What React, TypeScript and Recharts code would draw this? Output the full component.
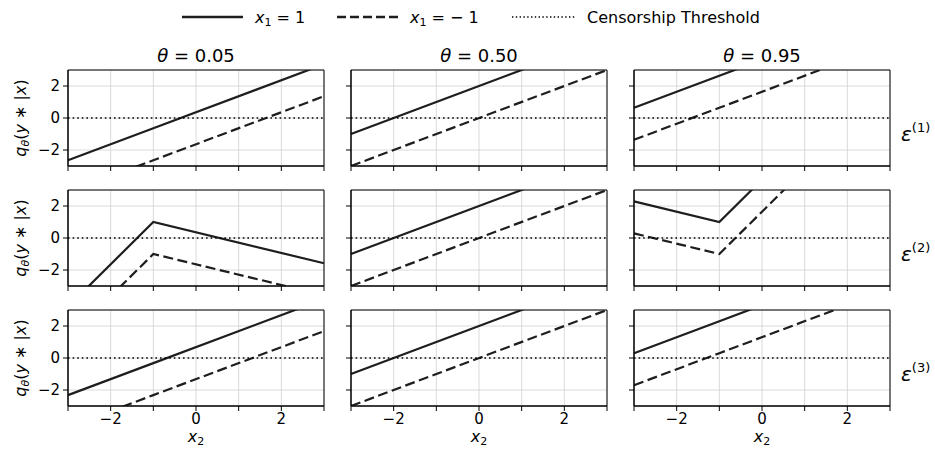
import { LineChart, Line, XAxis, YAxis, CartesianGrid, ReferenceLine, ReferenceArea } from 'recharts';

// x2 positions where the quantile curves are evaluated (kink at -1 for eps(2))
const X2 = [-3, -1, 3];
const THETAS = ['0.05', '0.50', '0.95'];
const NOISE_LABELS = ['1', '2', '3'];
const X_TICKS = [-3, -2, -1, 0, 1, 2, 3];
const Y_TICKS = [-2, 0, 2];

// one inner array per theta (0.05, 0.50, 0.95), values at X2
const E1_POS = [[-2.64, -0.64, 3.36], [-1, 1, 5], [0.64, 2.64, 6.64]];
const E1_NEG = [[-4.64, -2.64, 1.36], [-3, -1, 3], [-1.36, 0.64, 4.64]];
const E2_POS = [[-4.29, 1, -1.58], [-1, 1, 5], [2.29, 1, 11.58]];
const E2_NEG = [[-6.29, -1, -3.58], [-3, -1, 3], [0.29, -1, 9.58]];
const E3_POS = [[-2.32, -0.32, 3.68], [-1, 1, 5], [0.3, 2.3, 6.3]];
const E3_NEG = [[-4.32, -2.32, 1.68], [-3, -1, 3], [-1.7, 0.3, 4.3]];

const ROWS = [[E1_POS, E1_NEG], [E2_POS, E2_NEG], [E3_POS, E3_NEG]];

const COL_LEFT = [68, 351, 634];
const ROW_TOP = [70, 190, 310];
const PW = 256;
const PH = 96;
const YAXIS_W = 40;
const XAXIS_H = 30;
const M_TOP = 2;
const M_RIGHT = 2;
const FONT = '"DejaVu Sans", sans-serif';
const INK = '#1e1e1e';

const fmt = (v: number) => String(v).replace('-', '\u2212');

function Panel({ row, col }: { row: number; col: number }) {
  const [pos, neg] = ROWS[row];
  const data = X2.map((x, i) => ({ x2: x, pos: pos[col][i], neg: neg[col][i] }));
  const showX = row === 2;
  const showY = col === 0;

  return (
    <div style={{ position: 'absolute', left: COL_LEFT[col] - YAXIS_W, top: ROW_TOP[row] - M_TOP }}>
      <LineChart
        width={YAXIS_W + PW + M_RIGHT}
        height={M_TOP + PH + XAXIS_H}
        data={data}
        margin={{ top: M_TOP, right: M_RIGHT, bottom: 0, left: 0 }}
      >
        <CartesianGrid stroke="#d0d0d0" strokeWidth={0.8} />
        <XAxis
          dataKey="x2"
          type="number"
          domain={[-3, 3]}
          ticks={X_TICKS}
          interval={0}
          height={XAXIS_H}
          tickSize={5}
          tickMargin={2}
          axisLine={{ stroke: '#000' }}
          tickLine={{ stroke: '#000' }}
          tick={{ fill: '#000', fontSize: 15, fontFamily: FONT }}
          tickFormatter={(v: number) => (showX && v % 2 === 0 && Math.abs(v) < 3 ? fmt(v) : '')}
        />
        <YAxis
          type="number"
          domain={[-3, 3]}
          ticks={Y_TICKS}
          allowDataOverflow
          width={YAXIS_W}
          tickSize={5}
          tickMargin={3}
          axisLine={{ stroke: '#000' }}
          tickLine={{ stroke: '#000' }}
          tick={{ fill: '#000', fontSize: 15, fontFamily: FONT }}
          tickFormatter={(v: number) => (showY ? fmt(v) : '')}
        />
        <Line dataKey="pos" type="linear" stroke={INK} strokeWidth={2.2} dot={false} isAnimationActive={false} />
        <Line
          dataKey="neg"
          type="linear"
          stroke={INK}
          strokeWidth={2.2}
          strokeDasharray="10 4.5"
          dot={false}
          isAnimationActive={false}
        />
        <ReferenceLine y={0} stroke="#000" strokeWidth={1.6} strokeDasharray="1.6 3" />
        <ReferenceArea x1={-3} x2={3} y1={-3} y2={3} fill="none" fillOpacity={0} stroke="#000" strokeWidth={1} />
      </LineChart>
    </div>
  );
}

function Overlay() {
  return (
    <svg
      width={935}
      height={454}
      style={{ position: 'absolute', left: 0, top: 0, pointerEvents: 'none' }}
      fontFamily={FONT}
    >
      {/* legend */}
      <line x1={182} x2={243} y1={17} y2={17} stroke={INK} strokeWidth={2.6} />
      <text x={255} y={23} fontSize={16}>
        <tspan fontStyle="italic">x</tspan>
        <tspan fontSize={11} dy={3}>1</tspan>
        <tspan dy={-3}> = 1</tspan>
      </text>
      <line x1={337} x2={398} y1={17} y2={17} stroke={INK} strokeWidth={2.6} strokeDasharray="9 4" />
      <text x={410} y={23} fontSize={16}>
        <tspan fontStyle="italic">x</tspan>
        <tspan fontSize={11} dy={3}>1</tspan>
        <tspan dy={-3}> = {'\u2212'} 1</tspan>
      </text>
      <line x1={512} x2={575} y1={17} y2={17} stroke="#000" strokeWidth={1.4} strokeDasharray="1.4 2.4" />
      <text x={587} y={23} fontSize={16}>Censorship Threshold</text>

      {/* column titles */}
      {THETAS.map((t, c) => (
        <text key={t} x={COL_LEFT[c] + PW / 2} y={62} fontSize={18} textAnchor="middle">
          <tspan fontStyle="italic">θ</tspan> = {t}
        </text>
      ))}

      {/* y labels */}
      {ROW_TOP.map((top) => (
        <text
          key={top}
          x={0}
          y={0}
          fontSize={16}
          textAnchor="middle"
          transform={`translate(26, ${top + PH / 2}) rotate(-90)`}
        >
          <tspan fontStyle="italic">q</tspan>
          <tspan fontStyle="italic" fontSize={11} dy={3}>θ</tspan>
          <tspan dy={-3}>(</tspan>
          <tspan fontStyle="italic">y</tspan>
          <tspan> ∗ |</tspan>
          <tspan fontStyle="italic">x</tspan>
          <tspan>)</tspan>
        </text>
      ))}

      {/* noise labels on the right */}
      {NOISE_LABELS.map((n, r) => (
        <text key={n} x={901} y={ROW_TOP[r] + 71} fontSize={20}>
          <tspan fontStyle="italic">ε</tspan>
          <tspan fontSize={13} dy={-9}>({n})</tspan>
        </text>
      ))}

      {/* x labels */}
      {COL_LEFT.map((left) => (
        <text key={left} x={left + PW / 2} y={442} fontSize={16} textAnchor="middle">
          <tspan fontStyle="italic">x</tspan>
          <tspan fontSize={11} dy={3}>2</tspan>
        </text>
      ))}
    </svg>
  );
}

export default function App() {
  return (
    <div style={{ position: 'absolute', left: 0, top: 0, width: 935, height: 454, background: '#fff' }}>
      {[0, 1, 2].map((r) => [0, 1, 2].map((c) => <Panel key={`${r}-${c}`} row={r} col={c} />))}
      <Overlay />
    </div>
  );
}
